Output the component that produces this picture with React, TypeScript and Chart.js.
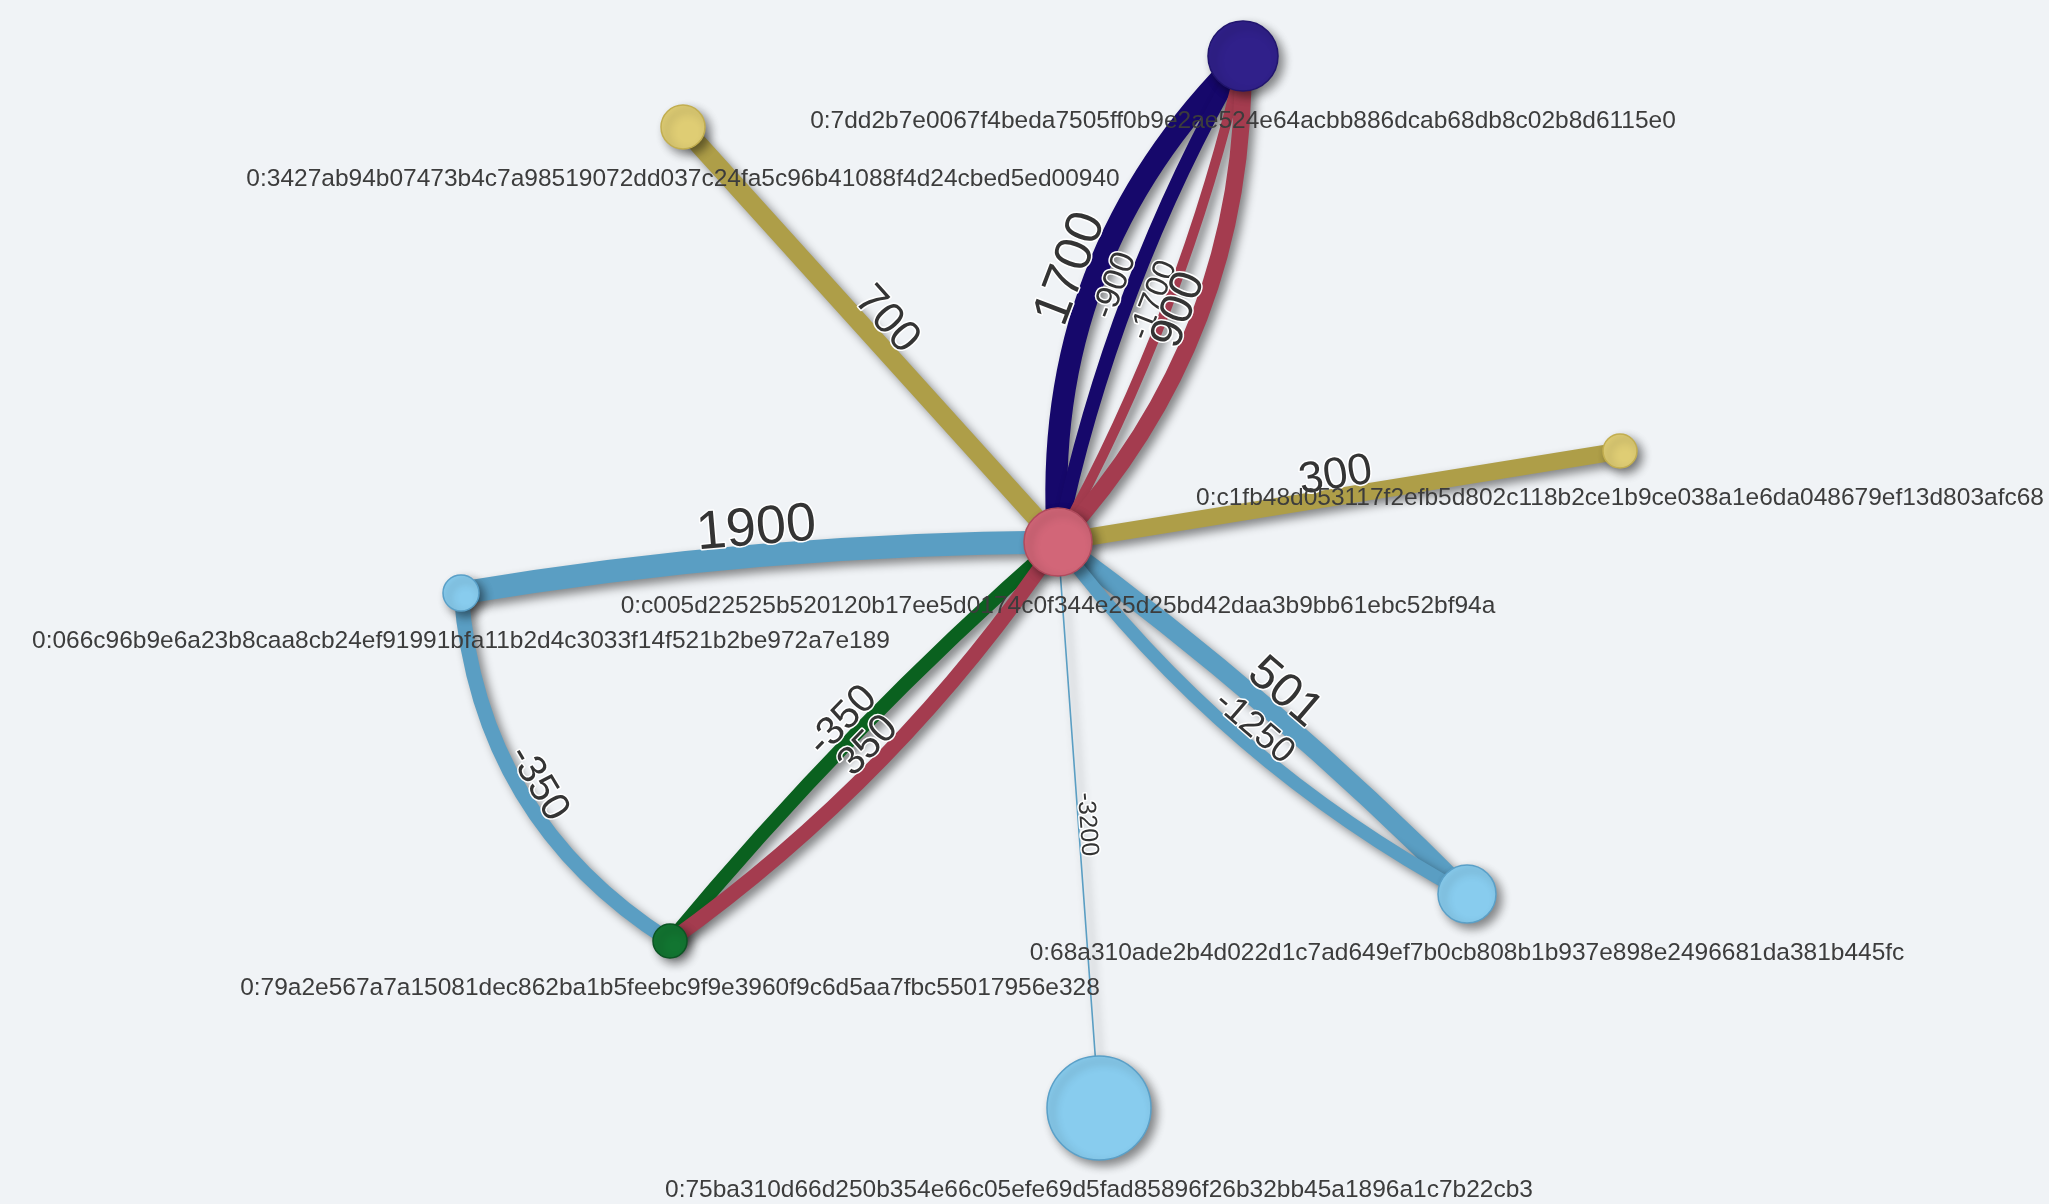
import React, { useEffect, useRef } from "react";
import { Chart, registerables } from "chart.js";

Chart.register(...registerables);

// ---- Nodes ----
const nodeLabels = [
  "0:c005d22525b520120b17ee5d0174c0f344e25d25bd42daa3b9bb61ebc52bf94a",
  "0:7dd2b7e0067f4beda7505ff0b9e2ae524e64acbb886dcab68db8c02b8d6115e0",
  "0:3427ab94b07473b4c7a98519072dd037c24fa5c96b41088f4d24cbed5ed00940",
  "0:c1fb48d053117f2efb5d802c118b2ce1b9ce038a1e6da048679ef13d803afc68",
  "0:066c96b9e6a23b8caa8cb24ef91991bfa11b2d4c3033f14f521b2be972a7e189",
  "0:79a2e567a7a15081dec862ba1b5feebc9f9e3960f9c6d5aa7fbc55017956e328",
  "0:68a310ade2b4d022d1c7ad649ef7b0cb808b1b937e898e2496681da381b445fc",
  "0:75ba310d66d250b354e66c05efe69d5fad85896f26b32bb45a1896a1c7b22cb3",
];
const nodeX = [1058, 1243, 683, 1620, 461, 670, 1467, 1099];
const nodeY = [542, 56, 127, 451, 593, 941, 894, 1108];
const nodeSize = [34, 35, 22, 17, 18, 17, 29, 52];
const nodeFill = ["#d26678", "#30208a", "#dfcd74", "#dfcd74", "#88ccee", "#127531", "#88ccee", "#88ccee"];
const nodeBorder = ["#b04b5d", "#21156e", "#c2ae50", "#c2ae50", "#5aa0c8", "#0b5523", "#5aa0c8", "#5aa0c8"];

// ---- Edges ----
const edgeFrom = [0, 0, 0, 0, 2, 0, 4, 4, 5, 5, 0, 0, 0];
const edgeTo = [1, 1, 1, 1, 0, 3, 0, 5, 0, 0, 6, 6, 7];
const edgeValues = [1700, -900, -1700, 900, 700, 300, 1900, -350, -350, 350, 501, -1250, -3200];
const edgeWidth = [22, 14, 10, 17, 19, 17, 23, 15, 14, 15, 19, 13, 1.6];
const edgeColor = ["#16086b", "#16086b", "#a43c4f", "#a43c4f", "#ae9e48", "#ae9e48", "#5a9ec3", "#5a9ec3", "#0a611f", "#a43c4f", "#5a9ec3", "#5a9ec3", "#5a9ec3"];
const edgeBend = [-0.23, -0.08, 0.07, 0.2, 0, 0, -0.04, 0.25, -0.04, 0.09, -0.04, 0.11, 0];
const edgeFont = [52, 34, 32, 46, 44, 44, 54, 40, 40, 40, 48, 36, 25];

const BG = "#f0f3f6";
const FONT = "'Liberation Sans', Arial, Helvetica, sans-serif";

function edgeGeom(chart: any, i: number) {
  const xs = chart.scales.x;
  const ys = chart.scales.y;
  const a = edgeFrom[i];
  const b = edgeTo[i];
  const x0 = xs.getPixelForValue(nodeX[a]);
  const y0 = ys.getPixelForValue(nodeY[a]);
  const x1 = xs.getPixelForValue(nodeX[b]);
  const y1 = ys.getPixelForValue(nodeY[b]);
  const dx = x1 - x0;
  const dy = y1 - y0;
  const L = Math.hypot(dx, dy);
  const nx = -dy / L;
  const ny = dx / L;
  const mx = (x0 + x1) / 2;
  const my = (y0 + y1) / 2;
  const cx = mx + edgeBend[i] * L * nx;
  const cy = my + edgeBend[i] * L * ny;
  return { x0, y0, x1, y1, cx, cy, dx, dy };
}

const networkPlugin = {
  id: "network",
  beforeDraw(chart: any) {
    const ctx = chart.ctx;
    ctx.save();
    ctx.fillStyle = BG;
    ctx.fillRect(0, 0, chart.width, chart.height);
    ctx.restore();
  },
  beforeDatasetsDraw(chart: any) {
    const ctx = chart.ctx;
    ctx.save();
    ctx.lineCap = "round";
    for (let i = 0; i < edgeValues.length; i++) {
      const g = edgeGeom(chart, i);
      ctx.shadowColor = "rgba(0,0,0,0.45)";
      ctx.shadowBlur = 10;
      ctx.shadowOffsetX = 5;
      ctx.shadowOffsetY = 5;
      ctx.strokeStyle = edgeColor[i];
      ctx.lineWidth = edgeWidth[i];
      ctx.beginPath();
      ctx.moveTo(g.x0, g.y0);
      ctx.quadraticCurveTo(g.cx, g.cy, g.x1, g.y1);
      ctx.stroke();
    }
    ctx.restore();
  },
  beforeDatasetDraw(chart: any) {
    const ctx = chart.ctx;
    ctx.shadowColor = "rgba(0,0,0,0.45)";
    ctx.shadowBlur = 10;
    ctx.shadowOffsetX = 5;
    ctx.shadowOffsetY = 5;
  },
  afterDatasetDraw(chart: any) {
    const ctx = chart.ctx;
    ctx.shadowColor = "rgba(0,0,0,0)";
    ctx.shadowBlur = 0;
    ctx.shadowOffsetX = 0;
    ctx.shadowOffsetY = 0;
  },
  afterDatasetsDraw(chart: any) {
    const ctx = chart.ctx;
    ctx.save();
    ctx.shadowColor = "rgba(0,0,0,0)";
    // edge labels
    for (let i = 0; i < edgeValues.length; i++) {
      const g = edgeGeom(chart, i);
      const px = 0.25 * g.x0 + 0.5 * g.cx + 0.25 * g.x1;
      const py = 0.25 * g.y0 + 0.5 * g.cy + 0.25 * g.y1;
      let ang = Math.atan2(g.dy, g.dx);
      if (ang > Math.PI / 2) ang -= Math.PI;
      if (ang <= -Math.PI / 2) ang += Math.PI;
      ctx.save();
      ctx.translate(px, py);
      ctx.rotate(ang);
      ctx.font = `${edgeFont[i]}px ${FONT}`;
      ctx.textAlign = "center";
      ctx.textBaseline = "alphabetic";
      const yOff = -edgeWidth[i] / 2 + edgeFont[i] * 0.04 - 2;
      ctx.lineJoin = "round";
      ctx.strokeStyle = "#ffffff";
      ctx.lineWidth = 3;
      ctx.strokeText(String(edgeValues[i]), 0, yOff);
      ctx.fillStyle = "#343434";
      ctx.fillText(String(edgeValues[i]), 0, yOff);
      ctx.restore();
    }
    // node labels
    const xs = chart.scales.x;
    const ys = chart.scales.y;
    ctx.font = `24.5px ${FONT}`;
    ctx.textAlign = "center";
    ctx.textBaseline = "middle";
    ctx.fillStyle = "#3c3c3c";
    for (let i = 0; i < nodeLabels.length; i++) {
      const x = xs.getPixelForValue(nodeX[i]);
      const y = ys.getPixelForValue(nodeY[i]) + nodeSize[i] + 30;
      ctx.fillText(nodeLabels[i], x, y);
    }
    ctx.restore();
  },
};

export default function App() {
  const ref = useRef<HTMLCanvasElement | null>(null);
  useEffect(() => {
    document.body.style.margin = "0";
    document.body.style.overflow = "hidden";
    document.body.style.background = BG;
    const canvas = ref.current!;
    const chart = new Chart(canvas, {
      type: "scatter",
      data: {
        datasets: [
          {
            data: nodeX.map((x, i) => ({ x, y: nodeY[i] })),
            pointRadius: nodeSize,
            pointHoverRadius: nodeSize,
            backgroundColor: nodeFill,
            borderColor: nodeBorder,
            borderWidth: 1.5,
          },
        ],
      },
      options: {
        responsive: false,
        animation: false,
        events: [],
        layout: { autoPadding: false, padding: 0 },
        plugins: { legend: { display: false }, tooltip: { enabled: false } },
        scales: {
          x: { type: "linear", min: 0, max: 2049, display: false },
          y: { type: "linear", min: 0, max: 1204, reverse: true, display: false },
        },
      },
      plugins: [networkPlugin],
    });
    return () => chart.destroy();
  }, []);
  return (
    <div style={{ position: "fixed", left: 0, top: 0, width: 2049, height: 1204 }}>
      <canvas ref={ref} width={2049} height={1204} />
    </div>
  );
}
